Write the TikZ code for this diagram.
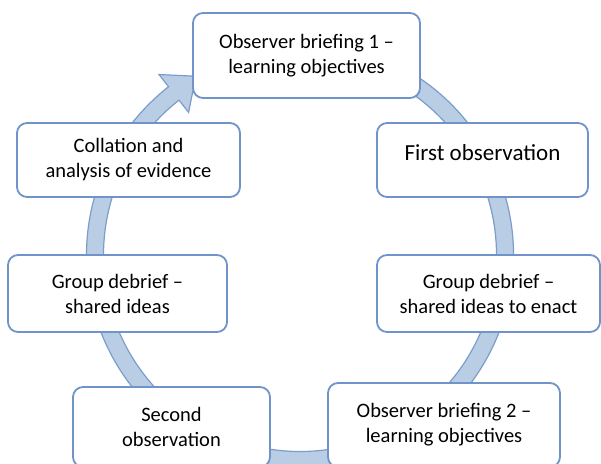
\documentclass[tikz,border=0pt]{standalone}
\usepackage{fontspec}
\setmainfont{Carlito}
\usetikzlibrary{calc}
\definecolor{ringfill}{RGB}{185,205,229}
\definecolor{ringedge}{RGB}{124,157,203}
\definecolor{boxedge}{RGB}{112,148,201}
\begin{document}
\begin{tikzpicture}[x=1pt, y=1pt,
  every node/.style={font=\fontsize{20.5}{25}\selectfont, align=center},
  stagebox/.style={draw=boxedge, line width=1.8, fill=white, rounded corners=10, inner sep=0pt}]
\useasboundingbox (0,0) rectangle (601,-463);
\clip (0,0) rectangle (601,-463);
\coordinate (ring) at (300,-255);
\coordinate (tip) at ($(ring)+(128:205)+(38:28)$);
\filldraw[fill=ringfill, draw=ringedge, line width=1.2] (ring) ++(60:213.5) arc[start angle=60, end angle=-232, radius=213.5] -- ($(ring)+(128:229)$) -- (tip) -- ($(ring)+(128:181)$) -- ($(ring)+(128:196.5)$) arc[start angle=-232, end angle=60, radius=196.5] -- cycle;
\node[stagebox, minimum width=227, minimum height=85] (brief1) at (306.5,-55.5) {\raisebox{2pt}{\begin{tabular}{c}Observer briefing 1 --\\learning objectives\end{tabular}}};
\node[stagebox, minimum width=211, minimum height=74, font=\fontsize{23}{27}\selectfont] (obs1) at (482.5,-160) {\raisebox{14pt}{First observation}};
\node[stagebox, minimum width=223, minimum height=77] (debrief1) at (488.5,-293.5) {Group debrief --\\shared ideas to enact};
\node[stagebox, minimum width=232, minimum height=84] (brief2) at (444,-425) {Observer briefing 2 --\\learning objectives};
\node[stagebox, minimum width=197, minimum height=80] (obs2) at (171.5,-427) {Second\\observation};
\node[stagebox, minimum width=219, minimum height=77] (debrief2) at (117.5,-293.5) {Group debrief --\\shared ideas};
\node[stagebox, minimum width=223, minimum height=74] (collate) at (128.5,-160) {Collation and\\analysis of evidence};
\end{tikzpicture}
\end{document}
